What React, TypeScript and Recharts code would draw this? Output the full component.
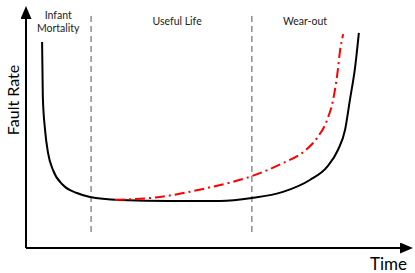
import { ComposedChart, Line, XAxis, YAxis, ReferenceLine, ReferenceDot } from 'recharts';

// bathtub curve (observed fault rate)
const bathTime = [4.3, 4.5, 5.1, 5.9, 7.2, 9.9, 13.6, 17.1, 25.1, 38.5, 51.9, 60.4, 68.7, 75.9, 80.5, 83.4, 85.3, 86.6, 88.0, 89.0];
const bathRate = [90.0, 65.9, 51.5, 41.5, 34.1, 27.5, 24.0, 22.3, 21.0, 20.5, 20.5, 21.8, 24.5, 29.7, 35.4, 42.8, 51.5, 64.6, 79.0, 93.9];

// wear-out curve (red dash-dot)
const wearTime = [23.8, 35.8, 48.4, 60.4, 68.7, 74.1, 77.8, 80.5, 82.1, 83.2, 84.0, 84.8];
const wearRate = [21.0, 22.3, 26.2, 31.4, 37.1, 41.9, 48.0, 55.9, 64.6, 75.5, 86.5, 93.4];

// phase boundaries and names
const phaseBounds = [17.4, 60.4];
const phaseNames = ['Infant\nMortality', 'Useful Life', 'Wear-out'];
const phaseCenters = [8.6, 40.4, 74.6];

const bathData = bathTime.map((t, i) => ({ t, rate: bathRate[i] }));
const wearData = wearTime.map((t, i) => ({ t, rate: wearRate[i] }));

const FONT = 'Lato, "Liberation Sans", sans-serif';

const PhaseText = ({ cx, cy, name }: { cx?: number; cy?: number; name: string }) => {
  const lines = name.split('\n');
  const startY = (cy ?? 0) - ((lines.length - 1) * 13) / 2;
  return (
    <text x={cx} textAnchor="middle" dominantBaseline="central" fontFamily={FONT} fontSize={10.5} fill="#222">
      {lines.map((l, i) => (
        <tspan key={i} x={cx} y={startY + i * 13}>{l}</tspan>
      ))}
    </text>
  );
};

export default function App() {
  return (
    <div style={{ position: 'absolute', left: 0, top: 0, width: 415, height: 273, background: '#fff' }}>
      <svg width={0} height={0} style={{ position: 'absolute' }}>
        <defs>
          <marker id="arrowHead" markerUnits="userSpaceOnUse" markerWidth={14} markerHeight={11} refX={0} refY={5.5} orient="auto-start-reverse">
            <path d="M0,0 L13,5.5 L0,11 z" fill="#000" />
          </marker>
        </defs>
      </svg>
      <ComposedChart width={415} height={273} margin={{ top: 19, right: 15, bottom: 24, left: 25 }}>
        <XAxis
          type="number"
          dataKey="t"
          domain={[0, 100]}
          height={1}
          tick={false}
          tickLine={false}
          axisLine={{ stroke: '#000', strokeWidth: 2, markerEnd: 'url(#arrowHead)' }}
          label={{
            content: ({ viewBox }: any) => (
              <text x={viewBox.x + viewBox.width + 7} y={viewBox.y + 22} textAnchor="end" fontFamily={FONT} fontSize={17} fill="#000">
                Time
              </text>
            ),
          }}
        />
        <YAxis
          type="number"
          domain={[0, 100]}
          width={1}
          tick={false}
          tickLine={false}
          axisLine={{ stroke: '#000', strokeWidth: 2, markerStart: 'url(#arrowHead)' }}
          label={{
            content: ({ viewBox }: any) => (
              <text
                x={12}
                y={viewBox.y + 81}
                transform={`rotate(-90 12 ${viewBox.y + 81})`}
                textAnchor="middle"
                dominantBaseline="central"
                fontFamily={FONT}
                fontSize={16}
                fill="#000"
              >
                Fault Rate
              </text>
            ),
          }}
        />
        {phaseBounds.map((b) => (
          <ReferenceLine
            key={b}
            segment={[{ x: b, y: 7 }, { x: b, y: 103.1 }]}
            stroke="#555"
            strokeWidth={1}
            strokeDasharray="6 4"
            ifOverflow="visible"
          />
        ))}
        {phaseNames.map((n, i) => (
          <ReferenceDot
            key={n}
            x={phaseCenters[i]}
            y={99.1}
            r={0}
            ifOverflow="visible"
            shape={(p: any) => <PhaseText cx={p.cx} cy={p.cy} name={n} />}
          />
        ))}
        <Line data={bathData} dataKey="rate" type="monotone" stroke="#000" strokeWidth={2} dot={false} isAnimationActive={false} />
        <Line data={wearData} dataKey="rate" type="monotone" stroke="#ff0000" strokeWidth={2} strokeDasharray="10 4 2 4" dot={false} isAnimationActive={false} />
      </ComposedChart>
    </div>
  );
}
